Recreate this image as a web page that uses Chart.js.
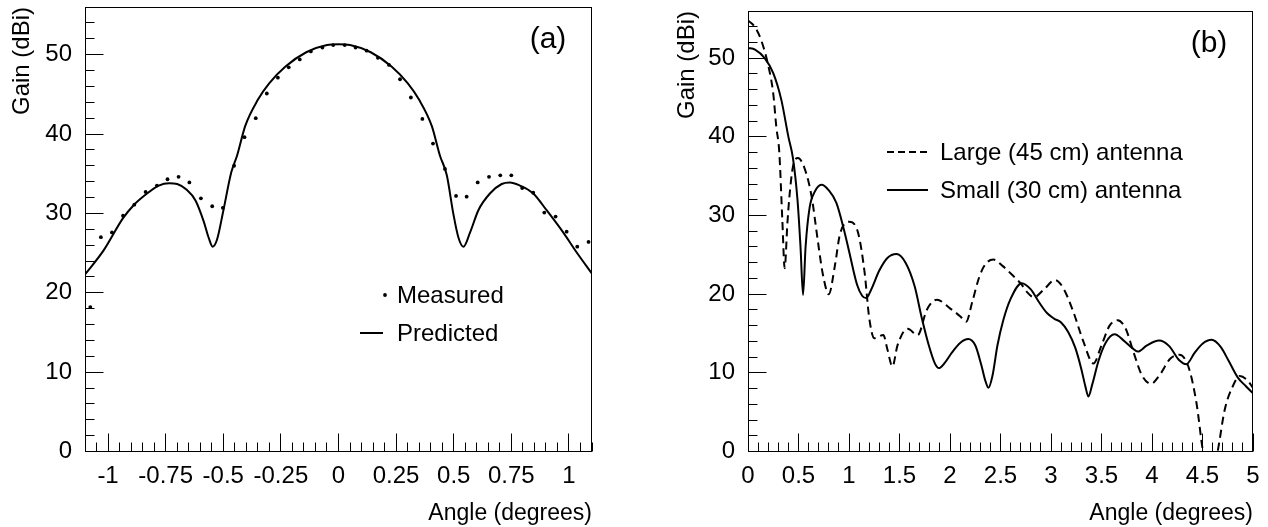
<!DOCTYPE html>
<html>
<head>
<meta charset="utf-8">
<script src="https://cdn.jsdelivr.net/npm/chart.js@4.4.1/dist/chart.umd.min.js"></script>
<style>
  html, body { margin: 0; padding: 0; background: #fff; }
  #wrap { position: relative; width: 1268px; height: 527px; overflow: hidden; }
  canvas { position: absolute; top: 0; }
  #chartA { left: 0; }
  #chartB { left: 640px; }
</style>
</head>
<body>
<div id="wrap">
  <canvas id="chartA" width="620" height="527"></canvas>
  <canvas id="chartB" width="628" height="527"></canvas>
</div>
<script>
// (a) measured points and predicted pattern
const measuredAngle = [-1.077, -1.031, -0.983, -0.935, -0.886, -0.837, -0.788, -0.742, -0.694, -0.647,
  -0.597, -0.548, -0.502, -0.453, -0.408, -0.359, -0.311, -0.263, -0.216, -0.168,
  -0.12, -0.07, -0.023, 0.027, 0.074, 0.122, 0.171, 0.219, 0.267, 0.314,
  0.364, 0.41, 0.462, 0.51, 0.556, 0.604, 0.653, 0.702, 0.75, 0.797,
  0.845, 0.893, 0.942, 0.99, 1.036, 1.085];
const measuredGain = [18.2, 27.0, 27.6, 29.7, 31.1, 32.7, 33.5, 34.3, 34.6, 33.9,
  31.9, 30.9, 30.7, 36.0, 39.6, 42.0, 45.1, 47.1, 48.4, 49.4,
  50.4, 50.9, 51.2, 51.2, 50.9, 50.5, 49.6, 48.7, 46.9, 44.6,
  41.9, 38.8, 35.6, 32.2, 32.1, 33.9, 34.6, 34.8, 34.8, 33.2,
  32.6, 30.1, 29.6, 27.7, 25.8, 26.4];

const predAngle = [-1.1, -1.02, -0.935, -0.89, -0.835, -0.78, -0.735, -0.7, -0.66, -0.62,
  -0.585, -0.563, -0.546, -0.527, -0.5, -0.465, -0.44, -0.405, -0.35, -0.3,
  -0.23, -0.14, -0.05, 0, 0.05, 0.14, 0.23, 0.3, 0.35, 0.405,
  0.44, 0.47, 0.498, 0.52, 0.542, 0.571, 0.607, 0.657, 0.708, 0.744,
  0.787, 0.845, 0.903, 0.975, 1.033, 1.1];
const predGain = [22.3, 25.3, 29.4, 31.0, 32.4, 33.5, 33.8, 33.7, 33.0, 31.6,
  29.0, 26.9, 25.8, 26.7, 30.3, 35.2, 37.3, 41.0, 44.3, 46.4,
  48.5, 50.3, 51.2, 51.3, 51.2, 50.3, 48.5, 46.4, 44.3, 41.0,
  37.3, 34.8, 30.0, 27.0, 25.8, 27.6, 30.4, 32.5, 33.7, 33.9,
  33.5, 32.5, 30.4, 27.6, 25.1, 22.4];

// (b) large and small antenna patterns
const largeAngle = [0, 0.066, 0.13, 0.2, 0.25, 0.28, 0.31, 0.34, 0.363, 0.39,
  0.41, 0.445, 0.495, 0.56, 0.63, 0.69, 0.74, 0.8, 0.86, 0.91,
  1.0, 1.09, 1.155, 1.2, 1.25, 1.34, 1.38, 1.43, 1.48, 1.58,
  1.68, 1.77, 1.87, 2.0, 2.1, 2.16, 2.22, 2.29, 2.35, 2.43,
  2.52, 2.62, 2.71, 2.76, 2.83, 2.93, 3.04, 3.12, 3.22, 3.32,
  3.42, 3.5, 3.58, 3.66, 3.74, 3.82, 3.9, 3.99, 4.08, 4.18,
  4.27, 4.36, 4.44, 4.505, 4.58, 4.65, 4.72, 4.8, 4.87, 4.94, 5.0];
const largeGain = [54.8, 54.0, 52.3, 49.1, 45.5, 41.3, 38.0, 29.4, 23.3, 29.0,
  32.4, 36.2, 37.3, 36.0, 32.4, 26.9, 22.6, 20.0, 23.6, 27.6,
  29.2, 27.8, 22.7, 17.0, 14.4, 14.8, 13.0, 10.8, 13.5, 15.6,
  14.8, 18.0, 19.3, 18.2, 17.2, 16.5, 19.0, 22.2, 23.8, 24.4,
  23.6, 22.4, 21.2, 20.3, 19.6, 20.6, 21.8, 20.8, 17.8, 14.0,
  11.2, 13.5, 16.0, 16.7, 15.6, 12.5, 9.7, 8.6, 9.8, 11.8,
  12.3, 10.8, 6.2, 0, -4, 0, 5.3, 8.3, 9.6, 9.1, 8.1];

const smallAngle = [0, 0.07, 0.165, 0.25, 0.33, 0.40, 0.445, 0.49, 0.52, 0.545,
  0.57, 0.61, 0.66, 0.727, 0.8, 0.875, 0.95, 1.0, 1.08, 1.13,
  1.17, 1.22, 1.3, 1.38, 1.47, 1.56, 1.65, 1.72, 1.79, 1.85,
  1.89, 1.95, 2.02, 2.1, 2.18, 2.25, 2.31, 2.35, 2.38, 2.42,
  2.47, 2.53, 2.6, 2.71, 2.8, 2.88, 2.96, 3.03, 3.1, 3.17,
  3.24, 3.3, 3.34, 3.37, 3.41, 3.47, 3.54, 3.63, 3.72, 3.8,
  3.86, 3.95, 4.07, 4.17, 4.27, 4.34, 4.42, 4.5, 4.59, 4.68,
  4.76, 4.85, 4.93, 5.0];
const smallGain = [51.3, 51.1, 50.0, 48.1, 44.7, 40.0, 37.3, 32.0, 26.0, 19.9,
  26.0, 31.0, 33.0, 33.9, 33.2, 31.6, 28.2, 25.5, 21.2, 19.8,
  19.5, 20.6, 23.0, 24.6, 25.1, 24.0, 21.0, 17.0, 13.5, 11.2,
  10.6, 11.3, 12.6, 13.8, 14.3, 13.5, 11.0, 9.0, 8.1, 9.6,
  13.5, 16.8, 19.4, 21.4, 20.6, 19.0, 17.6, 16.9, 16.4, 15.2,
  13.2, 10.5, 8.3, 7.0, 8.6, 11.5, 13.8, 14.9, 14.1, 13.2,
  12.7, 13.5, 14.1, 13.4, 11.6, 11.1, 12.5, 13.7, 14.2, 13.3,
  11.5, 9.4, 8.3, 7.4];

const yTickValues = [0, 10, 20, 30, 40, 50];

const FONT = '"Liberation Sans", Arial, Helvetica, sans-serif';

function pts(xs, ys) {
  return xs.map((x, i) => ({ x, y: ys[i] }));
}

function tickList(min, max, minor, majorEvery) {
  const out = [];
  for (let i = Math.ceil(min / minor - 1e-9); i <= Math.floor(max / minor + 1e-9); i++) {
    out.push({ v: i * minor, major: i % majorEvery === 0 });
  }
  return out;
}

// frame, inside ticks, panel tag and legend (ROOT style)
function decor(cfg) {
  return {
    id: 'decor',
    afterDraw(chart) {
      const ctx = chart.ctx;
      const a = chart.chartArea;
      const xs = chart.scales.x, ys = chart.scales.y;
      const snap = v => Math.floor(v) + 0.5;
      const L = snap(a.left), R = snap(a.right - 1);
      const T = snap(a.top), B = snap(a.bottom);
      ctx.save();
      ctx.strokeStyle = '#000';
      ctx.lineWidth = 1;
      ctx.beginPath();
      tickList(xs.min, xs.max, cfg.xMinor, 5).forEach(t => {
        const px = snap(xs.getPixelForValue(t.v));
        ctx.moveTo(px, B);
        ctx.lineTo(px, B - (t.major ? 18 : 9));
      });
      tickList(ys.min, ys.max, 2, 5).forEach(t => {
        const py = snap(ys.getPixelForValue(t.v));
        ctx.moveTo(L, py);
        ctx.lineTo(L + (t.major ? 18 : 9), py);
      });
      ctx.stroke();
      ctx.strokeRect(L, T, R - L, B - T);

      ctx.fillStyle = '#000';
      ctx.font = '30px ' + FONT;
      ctx.textAlign = 'center';
      ctx.textBaseline = 'middle';
      ctx.fillText(cfg.tag, a.right - 44, a.top + 33);

      ctx.font = '24px ' + FONT;
      ctx.textAlign = 'left';
      cfg.legend.forEach(e => {
        ctx.lineWidth = 2;
        if (e.kind === 'dot') {
          ctx.beginPath();
          ctx.arc(e.x2 - 2, e.y, 1.9, 0, Math.PI * 2);
          ctx.fill();
        } else {
          ctx.setLineDash(e.kind === 'dash' ? [7, 4] : []);
          ctx.beginPath();
          ctx.moveTo(e.x1, e.y);
          ctx.lineTo(e.x2, e.y);
          ctx.stroke();
          ctx.setLineDash([]);
        }
        ctx.fillText(e.text, e.tx, e.y + 1);
      });
      ctx.restore();
    }
  };
}

const fmt = v => String(Math.round(v * 100) / 100);

function makeOptions(xMin, xMax, xStep, yWidth, yTitlePad, pad) {
  return {
    responsive: false,
    animation: false,
    events: [],
    layout: { padding: pad },
    plugins: { legend: { display: false }, tooltip: { enabled: false } },
    scales: {
      x: {
        type: 'linear', min: xMin, max: xMax,
        grid: { display: false, drawTicks: false }, border: { display: false },
        ticks: { stepSize: xStep, includeBounds: false, padding: 10, maxRotation: 0, autoSkip: false,
                 callback: fmt, color: '#000', font: { family: FONT, size: 24 } },
        title: { display: true, text: 'Angle (degrees)', align: 'end', color: '#000',
                 padding: { top: 0, bottom: 0 }, font: { family: FONT, size: 23 } },
        afterFit(s) { s.height = 527 - 451.5; s.paddingLeft = 0; s.paddingRight = 0; }
      },
      y: {
        type: 'linear', min: 0, max: 56,
        grid: { display: false, drawTicks: false }, border: { display: false },
        afterBuildTicks(s) { s.ticks = yTickValues.map(v => ({ value: v })); },
        ticks: { padding: 13, callback: fmt, color: '#000', font: { family: FONT, size: 24 } },
        title: { display: true, text: 'Gain (dBi)', align: 'end', color: '#000',
                 padding: { top: yTitlePad, bottom: 0 }, font: { family: FONT, size: 24 } },
        afterFit(s) { s.width = yWidth; s.paddingTop = 0; s.paddingBottom = 0; }
      }
    }
  };
}

new Chart(document.getElementById('chartA'), {
  type: 'scatter',
  data: {
    datasets: [
      { label: 'Measured', data: pts(measuredAngle, measuredGain), showLine: false,
        pointRadius: 1.9, pointBackgroundColor: '#000', pointBorderWidth: 0 },
      { label: 'Predicted', data: pts(predAngle, predGain), showLine: true, pointRadius: 0,
        borderColor: '#000', borderWidth: 2, cubicInterpolationMode: 'monotone' }
    ]
  },
  options: makeOptions(-1.1, 1.1, 0.25, 85, 7.5, { left: 0, top: 7, right: 28, bottom: 0 }),
  plugins: [decor({
    tag: '(a)', xMinor: 0.05,
    legend: [
      { kind: 'dot', x1: 380, x2: 387, y: 295, tx: 397, text: 'Measured' },
      { kind: 'line', x1: 360, x2: 383, y: 333, tx: 397, text: 'Predicted' }
    ]
  })]
});

new Chart(document.getElementById('chartB'), {
  type: 'scatter',
  data: {
    datasets: [
      { label: 'Large (45 cm) antenna', data: pts(largeAngle, largeGain), showLine: true, pointRadius: 0,
        borderColor: '#000', borderWidth: 2, borderDash: [8, 5], cubicInterpolationMode: 'monotone' },
      { label: 'Small (30 cm) antenna', data: pts(smallAngle, smallGain), showLine: true, pointRadius: 0,
        borderColor: '#000', borderWidth: 2, cubicInterpolationMode: 'monotone' }
    ]
  },
  options: makeOptions(0, 5, 0.5, 108, 32.5, { left: 0, top: 11, right: 15, bottom: 0 }),
  plugins: [decor({
    tag: '(b)', xMinor: 0.1,
    legend: [
      { kind: 'dash', x1: 247, x2: 288, y: 152, tx: 300, text: 'Large (45 cm) antenna' },
      { kind: 'line', x1: 247, x2: 288, y: 190, tx: 300, text: 'Small (30 cm) antenna' }
    ]
  })]
});
</script>
</body>
</html>
